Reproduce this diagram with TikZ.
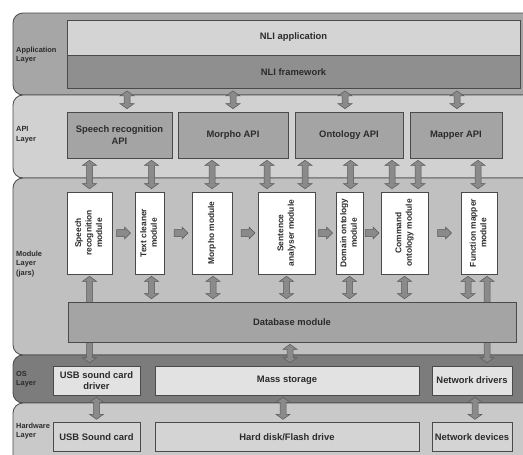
\documentclass[tikz,border=0pt]{standalone}
\usepackage{fontspec}
\setmainfont{Liberation Sans}
\usetikzlibrary{calc,positioning}

\definecolor{appcol}{HTML}{A6A6A6}
\definecolor{apicol}{HTML}{D1D1D1}
\definecolor{modcol}{HTML}{C0C0C0}
\definecolor{oscol}{HTML}{7C7C7C}
\definecolor{hwcol}{HTML}{C9C9C9}
\definecolor{lightbox}{HTML}{D4D4D4}
\definecolor{darkbox}{HTML}{8F8F8F}
\definecolor{midbox}{HTML}{A4A4A4}
\definecolor{osbox}{HTML}{E2E2E2}
\definecolor{arrowfill}{HTML}{8A8A8A}
\definecolor{arrowline}{HTML}{595959}
\definecolor{frameline}{HTML}{4A4A4A}
\definecolor{txt}{HTML}{2B2B2B}

\newcommand{\modlabel}[1]{\rotatebox{90}{\begin{tabular}{@{}c@{}}#1\end{tabular}}}

\tikzset{
  layerbg/.style={draw=frameline, line width=0.8pt, rounded corners=10pt},
  layertext/.style={anchor=west, align=left, inner sep=0pt, text=txt,
    font=\fontsize{7.4}{9.6}\selectfont\bfseries},
  plainbox/.style={draw=frameline, line width=0.6pt, inner sep=0pt, align=center, text=txt,
    font=\fontsize{9.4}{11.2}\selectfont\bfseries},
  modbox/.style={plainbox, fill=white, minimum height=82pt,
    font=\fontsize{8.4}{10.6}\selectfont\bfseries},
  biarrow/.style={draw=arrowline, fill=arrowfill, line width=0.5pt,
    to path={let \p1=(\tikztostart), \p2=(\tikztotarget) in
      (\x2,\y1-2pt) -- (\x2+7pt,\y1-7pt) -- (\x2+3pt,\y1-7pt) -- (\x2+3pt,\y2+8pt)
      -- (\x2+7pt,\y2+8pt) -- (\x2,\y2+3pt) -- (\x2-7pt,\y2+8pt) -- (\x2-3pt,\y2+8pt)
      -- (\x2-3pt,\y1-7pt) -- (\x2-7pt,\y1-7pt) -- cycle}},
  rarrow/.style={draw=arrowline, fill=arrowfill, line width=0.5pt,
    to path={let \p1=($(\tikztostart)!0.5!(\tikztotarget)$) in
      (\x1-7pt,\y1+3.5pt) -- (\x1+1pt,\y1+3.5pt) -- (\x1+1pt,\y1+6pt) -- (\x1+7pt,\y1)
      -- (\x1+1pt,\y1-6pt) -- (\x1+1pt,\y1-3.5pt) -- (\x1-7pt,\y1-3.5pt) -- cycle}}
}

\begin{document}
\begin{tikzpicture}[x=1pt,y=-1pt]

  \useasboundingbox (0,0) rectangle (523,455);
  \clip (0,0) rectangle (523,455);

  \draw[layerbg, fill=appcol] (13,13)  rectangle (545,95);
  \draw[layerbg, fill=apicol] (13,95)  rectangle (545,178);
  \draw[layerbg, fill=modcol] (13,178) rectangle (545,355);
  \draw[layerbg, fill=oscol]  (13,355) rectangle (545,403);
  \draw[layerbg, fill=hwcol]  (13,403) rectangle (545,475);

  \node[layertext] (applbl) at (16,55)  {Application\\Layer};
  \node[layertext] (apilbl) at (16,135) {API\\Layer};
  \node[layertext] (modlbl) at (16,264) {Module\\Layer\\(jars)};
  \node[layertext] (oslbl)  at (16,379) {OS\\Layer};
  \node[layertext] (hwlbl)  at (16,431) {Hardware\\Layer};

  \node[plainbox, fill=lightbox, minimum width=453pt, minimum height=35pt] (nliapp) at (293.5,37.5) {NLI application};
  \node[plainbox, fill=darkbox,  minimum width=453pt, minimum height=33pt] (nlifw)  [below=0pt of nliapp] {NLI framework};

  \node[plainbox, fill=midbox, minimum width=105pt, minimum height=46pt] (srapi)     at (119.5,135) {Speech recognition\\API};
  \node[plainbox, fill=midbox, minimum width=110pt, minimum height=46pt] (morphoapi) at (233,135)   {Morpho API};
  \node[plainbox, fill=midbox, minimum width=108pt, minimum height=46pt] (ontapi)    at (349,135)   {Ontology API};
  \node[plainbox, fill=midbox, minimum width=92pt,  minimum height=46pt] (mapperapi) at (456,135)   {Mapper API};

  \node[modbox, minimum width=45pt] (srmod)     at (89.5,233)  {\modlabel{Speech\\recognition\\module}};
  \node[modbox, minimum width=29pt] (tcmod)     at (149.5,233) {\modlabel{Text cleaner\\module}};
  \node[modbox, minimum width=40pt] (morphomod) at (212,233)   {\modlabel{Morpho module}};
  \node[modbox, minimum width=57pt] (sentmod)   at (286.5,233) {\modlabel{Sentence\\analyser module}};
  \node[modbox, minimum width=27pt] (dommod)    at (349.5,233) {\modlabel{Domain ontology\\module}};
  \node[modbox, minimum width=47pt] (cmdmod)    at (404.5,233) {\modlabel{Command\\ontology module}};
  \node[modbox, minimum width=36pt] (fmmod)     at (479,233)   {\modlabel{Function mapper\\module}};

  \node[plainbox, fill=osbox, minimum width=87pt,  minimum height=29pt] (usbdrv) at (96.5,380.5) {USB sound card\\driver};
  \node[plainbox, fill=osbox, minimum width=264pt, minimum height=29pt] (massst) at (287,380.5)  {Mass storage};
  \node[plainbox, fill=osbox, minimum width=80pt,  minimum height=29pt] (netdrv) at (472,380.5)  {Network drivers};

  \node[plainbox, fill=lightbox, minimum width=87pt,  minimum height=29pt] (usbcard) [below=27pt of usbdrv] {USB Sound card};
  \node[plainbox, fill=lightbox, minimum width=264pt, minimum height=29pt] (hdd)     [below=27pt of massst] {Hard disk/Flash drive};
  \node[plainbox, fill=lightbox, minimum width=80pt,  minimum height=29pt] (netdev)  [below=27pt of netdrv] {Network devices};

  \path[biarrow]
            (nlifw.south) to ([xshift=7.5pt]srapi.north)
            (nlifw.south) to (morphoapi.north)
            (nlifw.south) to ([xshift=-4pt]ontapi.north)
            (nlifw.south) to ([xshift=1pt]mapperapi.north)
            (srapi.south) to (srmod.north)
            (srapi.south) to ([xshift=2pt]tcmod.north)
            (morphoapi.south) to (morphomod.north)
            (morphoapi.south) to ([xshift=-19.5pt]sentmod.north)
            (ontapi.south) to ([xshift=18.5pt]sentmod.north)
            (ontapi.south) to ([xshift=1pt]dommod.north)
            (ontapi.south) to ([xshift=-12.5pt]cmdmod.north)
            (mapperapi.south) to ([xshift=13.5pt]cmdmod.north)
            (mapperapi.south) to ([xshift=-1pt]fmmod.north)
            (srmod.south) to (srmod.south |- usbdrv.north)
            (fmmod.south) to ([xshift=8pt]fmmod.south |- netdrv.north);

  \node[plainbox, fill=midbox, minimum width=448pt, minimum height=40pt] (dbmod) at (292,322) {Database module};

  \path[biarrow]
            (tcmod.south) to ([xshift=2pt]tcmod.south |- dbmod.north)
            (morphomod.south) to ([xshift=1pt]morphomod.south |- dbmod.north)
            (sentmod.south) to (sentmod.south |- dbmod.north)
            (dommod.south) to (dommod.south |- dbmod.north)
            (cmdmod.south) to (cmdmod.south |- dbmod.north)
            (fmmod.south) to ([xshift=-11pt]fmmod.south |- dbmod.north)
            (dbmod.south) to ([xshift=3pt]massst.north)
            (usbdrv.south) to (usbcard.north)
            (massst.south) to ([xshift=-4pt]hdd.north)
            (netdrv.south) to ([xshift=3pt]netdev.north);

  \path[rarrow]
            (srmod.east) to (tcmod.west)
            (tcmod.east) to ([xshift=6pt]morphomod.west)
            (morphomod.east) to ([xshift=6pt]sentmod.west)
            (sentmod.east) to (dommod.west)
            (dommod.east) to (cmdmod.west)
            (cmdmod.east) to (fmmod.west);
\end{tikzpicture}
\end{document}
